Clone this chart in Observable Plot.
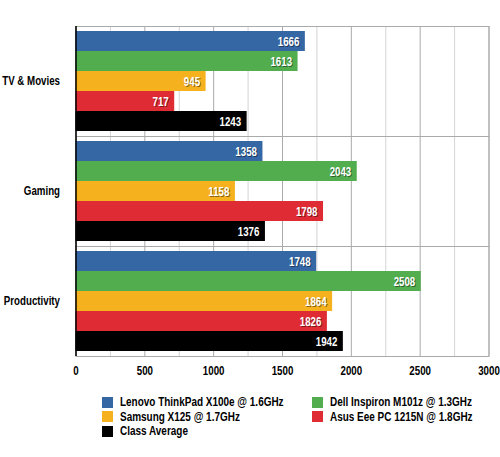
<!DOCTYPE html>
<html>
<head>
<meta charset="utf-8">
<script src="https://cdn.jsdelivr.net/npm/d3@7"></script>
<script src="https://cdn.jsdelivr.net/npm/@observablehq/plot@0.6"></script>
<style>
  body { margin: 0; background: #fff; }
  #wrap { position: relative; width: 500px; height: 457px; font-family: "Liberation Sans", Arial, sans-serif; font-weight: bold; font-size: 12px; }
  .lg { position: absolute; display: flex; align-items: center; white-space: nowrap; height: 14px; }
  .sw { width: 11px; height: 11px; margin-right: 7px; flex: none; }
  .lt { display: inline-block; transform: scaleX(0.83); transform-origin: left center; }
</style>
</head>
<body>
<div id="wrap"></div>
<script>
const categories = ["TV & Movies", "Gaming", "Productivity"];
const series = ["Lenovo ThinkPad X100e @ 1.6GHz", "Dell Inspiron M101z @ 1.3GHz", "Samsung X125 @ 1.7GHz", "Asus Eee PC 1215N @ 1.8GHz", "Class Average"];
const colors = ["#3467a4", "#52ad4f", "#f5b11e", "#df2b33", "#000000"];
const lenovo = [1666, 1358, 1748];
const dell = [1613, 2043, 2508];
const samsung = [945, 1158, 1864];
const asus = [717, 1798, 1826];
const average = [1243, 1376, 1942];
const xTicks = [0, 500, 1000, 1500, 2000, 2500, 3000];
const grid = d3.range(0, 3001, 250);

const valuesBySeries = [lenovo, dell, samsung, asus, average];
const data = [];
categories.forEach((c, i) => series.forEach((s, j) => data.push({category: c, series: s, value: valuesBySeries[j][i]})));

const font = '"Liberation Sans", Arial, sans-serif';

const chart = Plot.plot({
  width: 500,
  height: 390,
  marginLeft: 75.5,
  marginRight: 11.5,
  marginTop: 26,
  marginBottom: 34,
  style: {fontFamily: font, fontSize: "12px", fontWeight: "bold", color: "#000", background: "#fff", overflow: "visible"},
  x: {domain: [0, 3000], ticks: xTicks, tickSize: 0, tickPadding: 10, label: null, tickFormat: d => String(d)},
  y: {domain: series, axis: null, paddingInner: 0, paddingOuter: 0.25},
  fy: {domain: categories, axis: "left", label: null, tickSize: 0, tickPadding: 16, padding: 0},
  color: {domain: series, range: colors},
  marks: [
    Plot.ruleX(grid, {x: d => d, stroke: d => d % 500 === 0 ? "#aaaaaa" : "#d4d4d4", strokeWidth: 1}),
    Plot.frame({stroke: "#aaaaaa"}),
    Plot.barX(data, {fy: "category", y: "series", x: "value", fill: "series", insetTop: 0, insetBottom: 0}),
    Plot.text(data, {fy: "category", y: "series", x: "value", text: d => String(d.value), textAnchor: "end", dx: -5, dy: 1.5, fill: "#000", fillOpacity: 0.45, fontSize: 12, fontWeight: "bold"}),
    Plot.text(data, {fy: "category", y: "series", x: "value", text: d => String(d.value), textAnchor: "end", dx: -6, dy: 0.5, fill: "#fff", fontSize: 12, fontWeight: "bold"}),
    Plot.ruleX([0], {stroke: "#000", strokeWidth: 1.5})
  ]
});

const wrap = document.getElementById("wrap");
wrap.appendChild(chart);

// emulate the narrow bold face of the original
chart.querySelectorAll("text").forEach(t => {
  const len = t.getComputedTextLength();
  if (len > 0) {
    t.setAttribute("textLength", (len * 0.81).toFixed(2));
    t.setAttribute("lengthAdjust", "spacingAndGlyphs");
  }
});

const pos = [[102, 402], [312, 402], [102, 416.5], [312, 416.5], [102, 431]];
series.forEach((s, i) => {
  const el = document.createElement("div");
  el.className = "lg";
  el.style.left = pos[i][0] + "px";
  el.style.top = (pos[i][1] - 7) + "px";
  const sw = document.createElement("div");
  sw.className = "sw";
  sw.style.background = colors[i];
  el.appendChild(sw);
  const t = document.createElement("span");
  t.className = "lt";
  t.textContent = s;
  el.appendChild(t);
  wrap.appendChild(el);
});
</script>
</body>
</html>
